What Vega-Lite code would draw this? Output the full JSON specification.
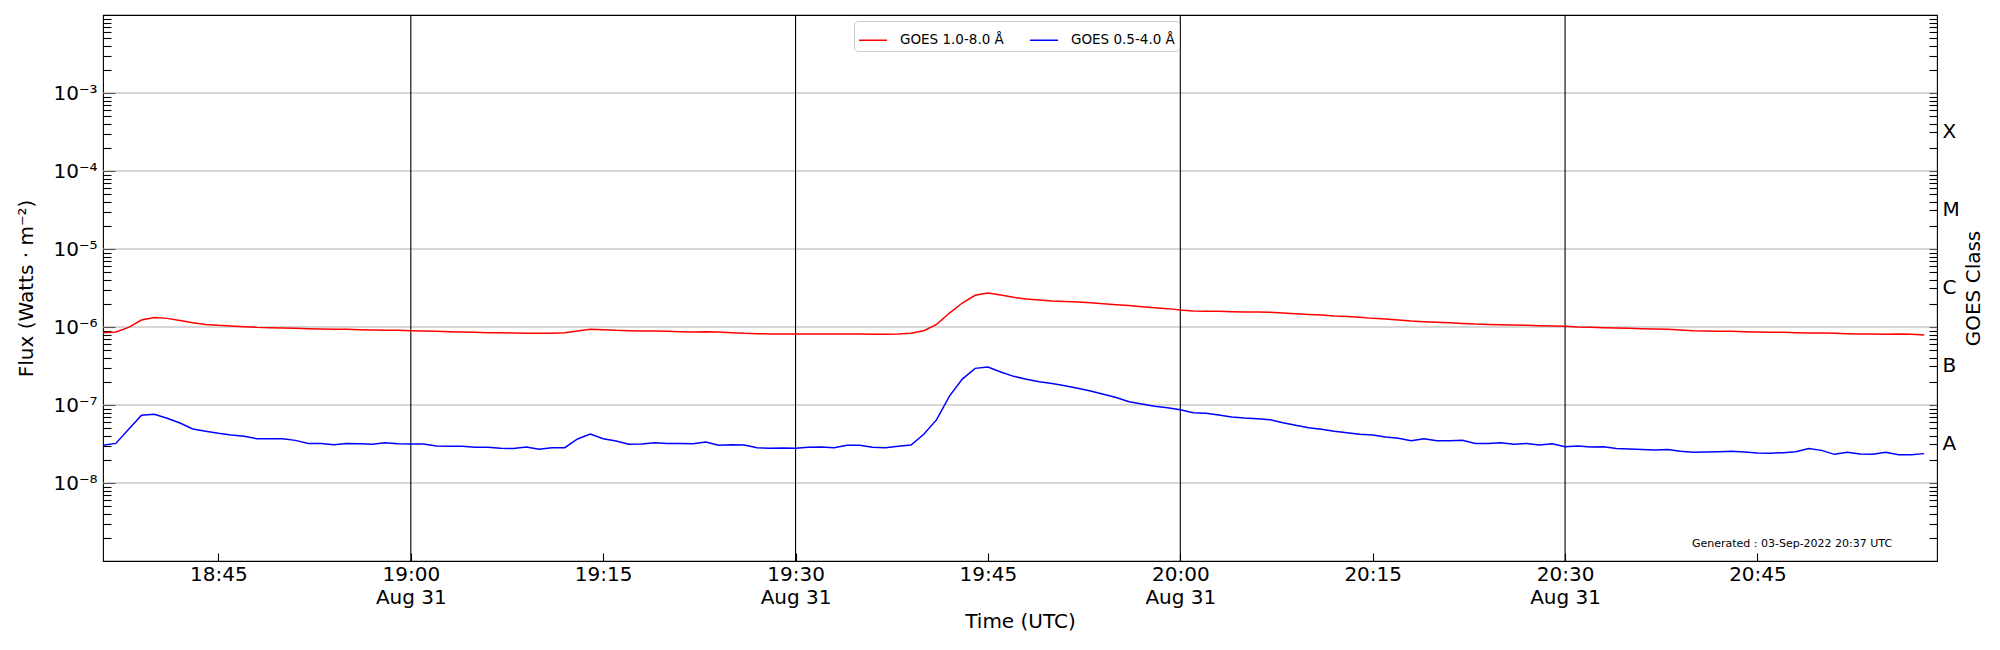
{
  "$schema": "https://vega.github.io/schema/vega-lite/v6.json",
  "description": "GOES XRS flux, 31 Aug 2022",
  "autosize": "none",
  "width": 1834,
  "height": 546,
  "padding": {"left": 103, "top": 15, "right": 63, "bottom": 89},
  "background": "white",
  "config": {
    "font": "DejaVu Sans",
    "view": {"stroke": "black", "strokeWidth": 1.1},
    "axis": {
      "labelFont": "DejaVu Sans", "labelFontSize": 20, "labelColor": "black",
      "titleFont": "DejaVu Sans", "titleFontSize": 20, "titleFontWeight": "normal", "titleColor": "black",
      "tickColor": "black", "tickWidth": 1.1, "domain": false, "grid": false
    }
  },
  "resolve": {"axis": {"y": "independent"}},
  "layer": [
    {
      "data": {"values": [{"v": 1e-8}, {"v": 1e-7}, {"v": 1e-6}, {"v": 1e-5}, {"v": 1e-4}, {"v": 1e-3}]},
      "mark": {"type": "rule", "color": "#b0b0b0", "strokeWidth": 1.1},
      "encoding": {
        "y": {
          "field": "v", "type": "quantitative",
          "scale": {"type": "log", "domain": [1e-9, 1e-2], "nice": false},
          "axis": {
            "orient": "right",
            "values": [2e-9, 3e-9, 4e-9, 5e-9, 6e-9, 7e-9, 8e-9, 9e-9,
                       1e-8, 2e-8, 3.1623e-8, 4e-8, 5e-8, 6e-8, 7e-8, 8e-8, 9e-8,
                       1e-7, 2e-7, 3.1623e-7, 4e-7, 5e-7, 6e-7, 7e-7, 8e-7, 9e-7,
                       1e-6, 2e-6, 3.1623e-6, 4e-6, 5e-6, 6e-6, 7e-6, 8e-6, 9e-6,
                       1e-5, 2e-5, 3.1623e-5, 4e-5, 5e-5, 6e-5, 7e-5, 8e-5, 9e-5,
                       1e-4, 2e-4, 3.1623e-4, 4e-4, 5e-4, 6e-4, 7e-4, 8e-4, 9e-4,
                       1e-3, 2e-3, 3e-3, 4e-3, 5e-3, 6e-3, 7e-3, 8e-3, 9e-3],
            "labelExpr": "abs(log(datum.value)/LN10 - floor(log(datum.value)/LN10) - 0.5) < 0.01 ? ['A','B','C','M','X'][floor(log(datum.value)/LN10) + 8] : ''",
            "labelOverlap": false,
            "offset": -8,
            "tickSize": 8,
            "labelPadding": 5,
            "title": "GOES Class",
            "titleAngle": 270,
            "titleBaseline": "top",
            "titlePadding": 4
          }
        }
      }
    },
    {
      "data": {"values": [
        {"t": "2022-08-31T19:00:00Z"}, {"t": "2022-08-31T19:30:00Z"},
        {"t": "2022-08-31T20:00:00Z"}, {"t": "2022-08-31T20:30:00Z"}
      ]},
      "mark": {"type": "rule", "color": "black", "strokeWidth": 1.1},
      "encoding": {
        "x": {"field": "t", "type": "temporal",
              "scale": {"type": "utc", "domain": [
                {"year": 2022, "month": 8, "date": 31, "hours": 18, "minutes": 36, "utc": true},
                {"year": 2022, "month": 8, "date": 31, "hours": 20, "minutes": 59, "utc": true}]}}
      }
    },
    {
      "data": {"values": [
        {"t": "2022-08-31T18:36:00Z", "xrsb": 8.46e-7, "xrsa": 3.04e-8},
        {"t": "2022-08-31T18:37:00Z", "xrsb": 8.63e-7, "xrsa": 3.22e-8},
        {"t": "2022-08-31T18:38:00Z", "xrsb": 9.90e-7, "xrsa": 4.88e-8},
        {"t": "2022-08-31T18:39:00Z", "xrsb": 1.23e-6, "xrsa": 7.37e-8},
        {"t": "2022-08-31T18:40:00Z", "xrsb": 1.32e-6, "xrsa": 7.59e-8},
        {"t": "2022-08-31T18:41:00Z", "xrsb": 1.29e-6, "xrsa": 6.75e-8},
        {"t": "2022-08-31T18:42:00Z", "xrsb": 1.21e-6, "xrsa": 5.88e-8},
        {"t": "2022-08-31T18:43:00Z", "xrsb": 1.13e-6, "xrsa": 4.92e-8},
        {"t": "2022-08-31T18:44:00Z", "xrsb": 1.08e-6, "xrsa": 4.60e-8},
        {"t": "2022-08-31T18:45:00Z", "xrsb": 1.05e-6, "xrsa": 4.33e-8},
        {"t": "2022-08-31T18:46:00Z", "xrsb": 1.03e-6, "xrsa": 4.12e-8},
        {"t": "2022-08-31T18:47:00Z", "xrsb": 1.01e-6, "xrsa": 3.97e-8},
        {"t": "2022-08-31T18:48:00Z", "xrsb": 9.90e-7, "xrsa": 3.70e-8},
        {"t": "2022-08-31T18:49:00Z", "xrsb": 9.81e-7, "xrsa": 3.70e-8},
        {"t": "2022-08-31T18:50:00Z", "xrsb": 9.71e-7, "xrsa": 3.70e-8},
        {"t": "2022-08-31T18:51:00Z", "xrsb": 9.61e-7, "xrsa": 3.52e-8},
        {"t": "2022-08-31T18:52:00Z", "xrsb": 9.52e-7, "xrsa": 3.22e-8},
        {"t": "2022-08-31T18:53:00Z", "xrsb": 9.43e-7, "xrsa": 3.22e-8},
        {"t": "2022-08-31T18:54:00Z", "xrsb": 9.33e-7, "xrsa": 3.10e-8},
        {"t": "2022-08-31T18:55:00Z", "xrsb": 9.33e-7, "xrsa": 3.22e-8},
        {"t": "2022-08-31T18:56:00Z", "xrsb": 9.24e-7, "xrsa": 3.19e-8},
        {"t": "2022-08-31T18:57:00Z", "xrsb": 9.15e-7, "xrsa": 3.13e-8},
        {"t": "2022-08-31T18:58:00Z", "xrsb": 9.06e-7, "xrsa": 3.29e-8},
        {"t": "2022-08-31T18:59:00Z", "xrsb": 9.06e-7, "xrsa": 3.19e-8},
        {"t": "2022-08-31T19:00:00Z", "xrsb": 8.97e-7, "xrsa": 3.16e-8},
        {"t": "2022-08-31T19:01:00Z", "xrsb": 8.89e-7, "xrsa": 3.16e-8},
        {"t": "2022-08-31T19:02:00Z", "xrsb": 8.80e-7, "xrsa": 2.98e-8},
        {"t": "2022-08-31T19:03:00Z", "xrsb": 8.71e-7, "xrsa": 2.95e-8},
        {"t": "2022-08-31T19:04:00Z", "xrsb": 8.63e-7, "xrsa": 2.95e-8},
        {"t": "2022-08-31T19:05:00Z", "xrsb": 8.54e-7, "xrsa": 2.87e-8},
        {"t": "2022-08-31T19:06:00Z", "xrsb": 8.46e-7, "xrsa": 2.87e-8},
        {"t": "2022-08-31T19:07:00Z", "xrsb": 8.46e-7, "xrsa": 2.78e-8},
        {"t": "2022-08-31T19:08:00Z", "xrsb": 8.38e-7, "xrsa": 2.76e-8},
        {"t": "2022-08-31T19:09:00Z", "xrsb": 8.29e-7, "xrsa": 2.89e-8},
        {"t": "2022-08-31T19:10:00Z", "xrsb": 8.29e-7, "xrsa": 2.70e-8},
        {"t": "2022-08-31T19:11:00Z", "xrsb": 8.29e-7, "xrsa": 2.84e-8},
        {"t": "2022-08-31T19:12:00Z", "xrsb": 8.46e-7, "xrsa": 2.84e-8},
        {"t": "2022-08-31T19:13:00Z", "xrsb": 8.89e-7, "xrsa": 3.67e-8},
        {"t": "2022-08-31T19:14:00Z", "xrsb": 9.33e-7, "xrsa": 4.25e-8},
        {"t": "2022-08-31T19:15:00Z", "xrsb": 9.24e-7, "xrsa": 3.70e-8},
        {"t": "2022-08-31T19:16:00Z", "xrsb": 9.06e-7, "xrsa": 3.46e-8},
        {"t": "2022-08-31T19:17:00Z", "xrsb": 8.97e-7, "xrsa": 3.13e-8},
        {"t": "2022-08-31T19:18:00Z", "xrsb": 8.89e-7, "xrsa": 3.16e-8},
        {"t": "2022-08-31T19:19:00Z", "xrsb": 8.89e-7, "xrsa": 3.29e-8},
        {"t": "2022-08-31T19:20:00Z", "xrsb": 8.80e-7, "xrsa": 3.22e-8},
        {"t": "2022-08-31T19:21:00Z", "xrsb": 8.71e-7, "xrsa": 3.22e-8},
        {"t": "2022-08-31T19:22:00Z", "xrsb": 8.63e-7, "xrsa": 3.19e-8},
        {"t": "2022-08-31T19:23:00Z", "xrsb": 8.71e-7, "xrsa": 3.35e-8},
        {"t": "2022-08-31T19:24:00Z", "xrsb": 8.63e-7, "xrsa": 3.04e-8},
        {"t": "2022-08-31T19:25:00Z", "xrsb": 8.46e-7, "xrsa": 3.10e-8},
        {"t": "2022-08-31T19:26:00Z", "xrsb": 8.29e-7, "xrsa": 3.07e-8},
        {"t": "2022-08-31T19:27:00Z", "xrsb": 8.21e-7, "xrsa": 2.84e-8},
        {"t": "2022-08-31T19:28:00Z", "xrsb": 8.13e-7, "xrsa": 2.78e-8},
        {"t": "2022-08-31T19:29:00Z", "xrsb": 8.13e-7, "xrsa": 2.81e-8},
        {"t": "2022-08-31T19:30:00Z", "xrsb": 8.13e-7, "xrsa": 2.78e-8},
        {"t": "2022-08-31T19:31:00Z", "xrsb": 8.13e-7, "xrsa": 2.87e-8},
        {"t": "2022-08-31T19:32:00Z", "xrsb": 8.13e-7, "xrsa": 2.89e-8},
        {"t": "2022-08-31T19:33:00Z", "xrsb": 8.13e-7, "xrsa": 2.84e-8},
        {"t": "2022-08-31T19:34:00Z", "xrsb": 8.13e-7, "xrsa": 3.04e-8},
        {"t": "2022-08-31T19:35:00Z", "xrsb": 8.13e-7, "xrsa": 3.04e-8},
        {"t": "2022-08-31T19:36:00Z", "xrsb": 8.05e-7, "xrsa": 2.87e-8},
        {"t": "2022-08-31T19:37:00Z", "xrsb": 8.05e-7, "xrsa": 2.84e-8},
        {"t": "2022-08-31T19:38:00Z", "xrsb": 8.13e-7, "xrsa": 2.95e-8},
        {"t": "2022-08-31T19:39:00Z", "xrsb": 8.29e-7, "xrsa": 3.07e-8},
        {"t": "2022-08-31T19:40:00Z", "xrsb": 8.97e-7, "xrsa": 4.21e-8},
        {"t": "2022-08-31T19:41:00Z", "xrsb": 1.08e-6, "xrsa": 6.49e-8},
        {"t": "2022-08-31T19:42:00Z", "xrsb": 1.51e-6, "xrsa": 1.30e-7},
        {"t": "2022-08-31T19:43:00Z", "xrsb": 2.03e-6, "xrsa": 2.15e-7},
        {"t": "2022-08-31T19:44:00Z", "xrsb": 2.55e-6, "xrsa": 2.95e-7},
        {"t": "2022-08-31T19:45:00Z", "xrsb": 2.73e-6, "xrsa": 3.07e-7},
        {"t": "2022-08-31T19:46:00Z", "xrsb": 2.57e-6, "xrsa": 2.65e-7},
        {"t": "2022-08-31T19:47:00Z", "xrsb": 2.40e-6, "xrsa": 2.33e-7},
        {"t": "2022-08-31T19:48:00Z", "xrsb": 2.29e-6, "xrsa": 2.14e-7},
        {"t": "2022-08-31T19:49:00Z", "xrsb": 2.22e-6, "xrsa": 1.99e-7},
        {"t": "2022-08-31T19:50:00Z", "xrsb": 2.15e-6, "xrsa": 1.88e-7},
        {"t": "2022-08-31T19:51:00Z", "xrsb": 2.13e-6, "xrsa": 1.77e-7},
        {"t": "2022-08-31T19:52:00Z", "xrsb": 2.09e-6, "xrsa": 1.64e-7},
        {"t": "2022-08-31T19:53:00Z", "xrsb": 2.05e-6, "xrsa": 1.51e-7},
        {"t": "2022-08-31T19:54:00Z", "xrsb": 1.99e-6, "xrsa": 1.37e-7},
        {"t": "2022-08-31T19:55:00Z", "xrsb": 1.93e-6, "xrsa": 1.25e-7},
        {"t": "2022-08-31T19:56:00Z", "xrsb": 1.88e-6, "xrsa": 1.10e-7},
        {"t": "2022-08-31T19:57:00Z", "xrsb": 1.82e-6, "xrsa": 1.03e-7},
        {"t": "2022-08-31T19:58:00Z", "xrsb": 1.77e-6, "xrsa": 9.61e-8},
        {"t": "2022-08-31T19:59:00Z", "xrsb": 1.72e-6, "xrsa": 9.24e-8},
        {"t": "2022-08-31T20:00:00Z", "xrsb": 1.65e-6, "xrsa": 8.71e-8},
        {"t": "2022-08-31T20:01:00Z", "xrsb": 1.60e-6, "xrsa": 7.97e-8},
        {"t": "2022-08-31T20:02:00Z", "xrsb": 1.59e-6, "xrsa": 7.82e-8},
        {"t": "2022-08-31T20:03:00Z", "xrsb": 1.59e-6, "xrsa": 7.44e-8},
        {"t": "2022-08-31T20:04:00Z", "xrsb": 1.57e-6, "xrsa": 7.02e-8},
        {"t": "2022-08-31T20:05:00Z", "xrsb": 1.56e-6, "xrsa": 6.81e-8},
        {"t": "2022-08-31T20:06:00Z", "xrsb": 1.56e-6, "xrsa": 6.68e-8},
        {"t": "2022-08-31T20:07:00Z", "xrsb": 1.54e-6, "xrsa": 6.49e-8},
        {"t": "2022-08-31T20:08:00Z", "xrsb": 1.51e-6, "xrsa": 5.94e-8},
        {"t": "2022-08-31T20:09:00Z", "xrsb": 1.48e-6, "xrsa": 5.49e-8},
        {"t": "2022-08-31T20:10:00Z", "xrsb": 1.45e-6, "xrsa": 5.12e-8},
        {"t": "2022-08-31T20:11:00Z", "xrsb": 1.43e-6, "xrsa": 4.88e-8},
        {"t": "2022-08-31T20:12:00Z", "xrsb": 1.38e-6, "xrsa": 4.60e-8},
        {"t": "2022-08-31T20:13:00Z", "xrsb": 1.36e-6, "xrsa": 4.42e-8},
        {"t": "2022-08-31T20:14:00Z", "xrsb": 1.33e-6, "xrsa": 4.21e-8},
        {"t": "2022-08-31T20:15:00Z", "xrsb": 1.29e-6, "xrsa": 4.12e-8},
        {"t": "2022-08-31T20:16:00Z", "xrsb": 1.27e-6, "xrsa": 3.89e-8},
        {"t": "2022-08-31T20:17:00Z", "xrsb": 1.23e-6, "xrsa": 3.74e-8},
        {"t": "2022-08-31T20:18:00Z", "xrsb": 1.19e-6, "xrsa": 3.49e-8},
        {"t": "2022-08-31T20:19:00Z", "xrsb": 1.17e-6, "xrsa": 3.70e-8},
        {"t": "2022-08-31T20:20:00Z", "xrsb": 1.15e-6, "xrsa": 3.49e-8},
        {"t": "2022-08-31T20:21:00Z", "xrsb": 1.13e-6, "xrsa": 3.49e-8},
        {"t": "2022-08-31T20:22:00Z", "xrsb": 1.11e-6, "xrsa": 3.52e-8},
        {"t": "2022-08-31T20:23:00Z", "xrsb": 1.09e-6, "xrsa": 3.22e-8},
        {"t": "2022-08-31T20:24:00Z", "xrsb": 1.08e-6, "xrsa": 3.22e-8},
        {"t": "2022-08-31T20:25:00Z", "xrsb": 1.07e-6, "xrsa": 3.29e-8},
        {"t": "2022-08-31T20:26:00Z", "xrsb": 1.06e-6, "xrsa": 3.13e-8},
        {"t": "2022-08-31T20:27:00Z", "xrsb": 1.05e-6, "xrsa": 3.22e-8},
        {"t": "2022-08-31T20:28:00Z", "xrsb": 1.04e-6, "xrsa": 3.07e-8},
        {"t": "2022-08-31T20:29:00Z", "xrsb": 1.03e-6, "xrsa": 3.19e-8},
        {"t": "2022-08-31T20:30:00Z", "xrsb": 1.02e-6, "xrsa": 2.92e-8},
        {"t": "2022-08-31T20:31:00Z", "xrsb": 1.00e-6, "xrsa": 2.98e-8},
        {"t": "2022-08-31T20:32:00Z", "xrsb": 9.90e-7, "xrsa": 2.89e-8},
        {"t": "2022-08-31T20:33:00Z", "xrsb": 9.81e-7, "xrsa": 2.92e-8},
        {"t": "2022-08-31T20:34:00Z", "xrsb": 9.71e-7, "xrsa": 2.76e-8},
        {"t": "2022-08-31T20:35:00Z", "xrsb": 9.61e-7, "xrsa": 2.73e-8},
        {"t": "2022-08-31T20:36:00Z", "xrsb": 9.52e-7, "xrsa": 2.68e-8},
        {"t": "2022-08-31T20:37:00Z", "xrsb": 9.43e-7, "xrsa": 2.65e-8},
        {"t": "2022-08-31T20:38:00Z", "xrsb": 9.33e-7, "xrsa": 2.68e-8},
        {"t": "2022-08-31T20:39:00Z", "xrsb": 9.15e-7, "xrsa": 2.55e-8},
        {"t": "2022-08-31T20:40:00Z", "xrsb": 8.97e-7, "xrsa": 2.47e-8},
        {"t": "2022-08-31T20:41:00Z", "xrsb": 8.89e-7, "xrsa": 2.50e-8},
        {"t": "2022-08-31T20:42:00Z", "xrsb": 8.80e-7, "xrsa": 2.52e-8},
        {"t": "2022-08-31T20:43:00Z", "xrsb": 8.80e-7, "xrsa": 2.55e-8},
        {"t": "2022-08-31T20:44:00Z", "xrsb": 8.71e-7, "xrsa": 2.50e-8},
        {"t": "2022-08-31T20:45:00Z", "xrsb": 8.63e-7, "xrsa": 2.42e-8},
        {"t": "2022-08-31T20:46:00Z", "xrsb": 8.54e-7, "xrsa": 2.40e-8},
        {"t": "2022-08-31T20:47:00Z", "xrsb": 8.54e-7, "xrsa": 2.45e-8},
        {"t": "2022-08-31T20:48:00Z", "xrsb": 8.46e-7, "xrsa": 2.52e-8},
        {"t": "2022-08-31T20:49:00Z", "xrsb": 8.38e-7, "xrsa": 2.76e-8},
        {"t": "2022-08-31T20:50:00Z", "xrsb": 8.38e-7, "xrsa": 2.62e-8},
        {"t": "2022-08-31T20:51:00Z", "xrsb": 8.29e-7, "xrsa": 2.33e-8},
        {"t": "2022-08-31T20:52:00Z", "xrsb": 8.21e-7, "xrsa": 2.47e-8},
        {"t": "2022-08-31T20:53:00Z", "xrsb": 8.13e-7, "xrsa": 2.35e-8},
        {"t": "2022-08-31T20:54:00Z", "xrsb": 8.13e-7, "xrsa": 2.33e-8},
        {"t": "2022-08-31T20:55:00Z", "xrsb": 8.05e-7, "xrsa": 2.47e-8},
        {"t": "2022-08-31T20:56:00Z", "xrsb": 8.13e-7, "xrsa": 2.31e-8},
        {"t": "2022-08-31T20:57:00Z", "xrsb": 8.05e-7, "xrsa": 2.31e-8},
        {"t": "2022-08-31T20:58:00Z", "xrsb": 7.90e-7, "xrsa": 2.38e-8}
      ]},
      "transform": [{"fold": ["xrsb", "xrsa"], "as": ["channel", "flux"]}],
      "mark": {"type": "line", "strokeWidth": 1.5},
      "encoding": {
        "x": {
          "field": "t", "type": "temporal",
          "scale": {"type": "utc", "domain": [
            {"year": 2022, "month": 8, "date": 31, "hours": 18, "minutes": 36, "utc": true},
            {"year": 2022, "month": 8, "date": 31, "hours": 20, "minutes": 59, "utc": true}]},
          "axis": {
            "values": [
              {"year": 2022, "month": 8, "date": 31, "hours": 18, "minutes": 45, "utc": true},
              {"year": 2022, "month": 8, "date": 31, "hours": 19, "minutes": 0, "utc": true},
              {"year": 2022, "month": 8, "date": 31, "hours": 19, "minutes": 15, "utc": true},
              {"year": 2022, "month": 8, "date": 31, "hours": 19, "minutes": 30, "utc": true},
              {"year": 2022, "month": 8, "date": 31, "hours": 19, "minutes": 45, "utc": true},
              {"year": 2022, "month": 8, "date": 31, "hours": 20, "minutes": 0, "utc": true},
              {"year": 2022, "month": 8, "date": 31, "hours": 20, "minutes": 15, "utc": true},
              {"year": 2022, "month": 8, "date": 31, "hours": 20, "minutes": 30, "utc": true},
              {"year": 2022, "month": 8, "date": 31, "hours": 20, "minutes": 45, "utc": true}
            ],
            "labelExpr": "utcminutes(datum.value) % 30 == 0 ? [utcFormat(datum.value, '%H:%M'), utcFormat(datum.value, '%b %d')] : utcFormat(datum.value, '%H:%M')",
            "labelOverlap": false,
            "labelFlush": false,
            "labelLineHeight": 23,
            "offset": -8,
            "tickSize": 8,
            "labelPadding": 3,
            "title": "Time (UTC)",
            "titlePadding": 4
          }
        },
        "y": {
          "field": "flux", "type": "quantitative",
          "scale": {"type": "log", "domain": [1e-9, 1e-2], "nice": false},
          "axis": {
            "orient": "left",
            "values": [1e-8, 1e-7, 1e-6, 1e-5, 1e-4, 1e-3],
            "labelExpr": "'10⁻' + ['⁰','¹','²','³','⁴','⁵','⁶','⁷','⁸','⁹'][-round(log(datum.value)/LN10)]",
            "labelOverlap": false,
            "offset": -12,
            "tickSize": 12,
            "labelPadding": 6,
            "title": "Flux (Watts · m⁻²)",
            "titlePadding": 16
          }
        },
        "color": {
          "field": "channel", "type": "nominal",
          "scale": {"domain": ["xrsb", "xrsa"], "range": ["#ff0000", "#0000ff"]},
          "legend": {
            "orient": "none", "legendX": 751, "legendY": 6,
            "direction": "horizontal", "title": null,
            "labelExpr": "datum.label == 'xrsb' ? 'GOES 1.0-8.0 Å' : 'GOES 0.5-4.0 Å'",
            "symbolType": "stroke", "symbolSize": 784, "symbolStrokeWidth": 1.5,
            "labelFont": "DejaVu Sans", "labelFontSize": 13.5, "labelColor": "black",
            "labelOffset": 12, "columnPadding": 23, "padding": 4,
            "strokeColor": "#cccccc", "fillColor": "rgba(255,255,255,0.8)", "cornerRadius": 4
          }
        }
      }
    },
    {
      "data": {"values": [{"note": "Generated : 03-Sep-2022 20:37 UTC"}]},
      "mark": {"type": "text", "align": "right", "baseline": "middle", "fontSize": 11, "font": "DejaVu Sans", "color": "black"},
      "encoding": {
        "text": {"field": "note"},
        "x": {"datum": {"year": 2022, "month": 8, "date": 31, "hours": 20, "minutes": 55, "seconds": 30, "utc": true}, "type": "temporal"},
        "y": {
          "datum": 1.66e-9, "type": "quantitative",
          "axis": {
            "orient": "left",
            "values": [2e-9, 3e-9, 4e-9, 5e-9, 6e-9, 7e-9, 8e-9, 9e-9,
                       2e-8, 3e-8, 4e-8, 5e-8, 6e-8, 7e-8, 8e-8, 9e-8,
                       2e-7, 3e-7, 4e-7, 5e-7, 6e-7, 7e-7, 8e-7, 9e-7,
                       2e-6, 3e-6, 4e-6, 5e-6, 6e-6, 7e-6, 8e-6, 9e-6,
                       2e-5, 3e-5, 4e-5, 5e-5, 6e-5, 7e-5, 8e-5, 9e-5,
                       2e-4, 3e-4, 4e-4, 5e-4, 6e-4, 7e-4, 8e-4, 9e-4,
                       2e-3, 3e-3, 4e-3, 5e-3, 6e-3, 7e-3, 8e-3, 9e-3],
            "labels": false,
            "offset": -8,
            "tickSize": 8,
            "title": null
          }
        }
      }
    }
  ]
}
